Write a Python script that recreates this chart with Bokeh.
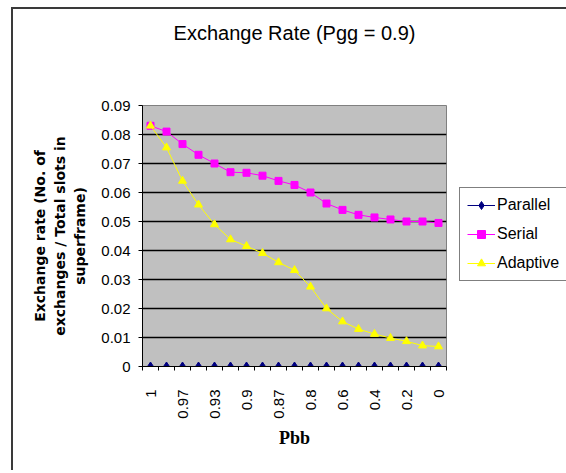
from bokeh.plotting import figure
from bokeh.models import Range1d, FixedTicker, Legend, LegendItem, Title
from bokeh.embed import file_html
from bokeh.resources import INLINE

pbb = ["1", "0.98", "0.97", "0.95", "0.93", "0.92", "0.9", "0.88", "0.87", "0.85",
       "0.8", "0.7", "0.6", "0.5", "0.4", "0.3", "0.2", "0.1", "0"]
parallel = [0.0] * 19
serial = [0.083, 0.081, 0.0767, 0.073, 0.070, 0.067, 0.0668, 0.0658, 0.064, 0.0626,
          0.060, 0.0562, 0.054, 0.0523, 0.0514, 0.0507, 0.050, 0.050, 0.0495]
adaptive = [0.083, 0.0755, 0.064, 0.0558, 0.049, 0.0438, 0.0415, 0.0391, 0.0359, 0.0332,
            0.0275, 0.020, 0.0155, 0.0129, 0.0112, 0.0098, 0.0087, 0.0072, 0.0069]
y_ticks = [0, 0.01, 0.02, 0.03, 0.04, 0.05, 0.06, 0.07, 0.08, 0.09]
y_labels = ["0", "0.01", "0.02", "0.03", "0.04", "0.05", "0.06", "0.07", "0.08", "0.09"]

xs = list(range(len(pbb)))

p = figure(output_backend="svg", toolbar_location=None,
           frame_width=304, frame_height=261,
           min_border_left=129, min_border_right=120, min_border_top=96, min_border_bottom=104,
           x_range=Range1d(-0.5, len(pbb) - 0.5), y_range=Range1d(0, 0.09),
           title="Exchange Rate (Pgg = 0.9)")
p.styles = {"margin-left": "11px", "margin-top": "7px",
            "border-left": "2px solid #3a3a3a", "border-top": "2px solid #3a3a3a"}

p.title.align = "center"
p.title.text_font = "Liberation Sans"
p.title.text_font_size = "20px"
p.title.text_font_style = "normal"
p.title.text_color = "black"
p.title.standoff = 10

spacer = Title(text=" ", text_font_size="1px", standoff=54)
p.above.insert(0, spacer)

p.background_fill_color = "#C0C0C0"
p.border_fill_color = "white"
p.outline_line_color = "#808080"
p.outline_line_width = 1

# x axis
p.xaxis.ticker = FixedTicker(ticks=xs[::2], minor_ticks=[i - 0.5 for i in range(len(pbb) + 1)])
p.xaxis.major_label_overrides = {i: pbb[i] for i in xs}
p.xaxis.major_label_orientation = 1.5708
p.xaxis.major_tick_out = 0
p.xaxis.major_tick_in = 0
p.xaxis.minor_tick_out = 4
p.xaxis.minor_tick_in = 0
p.xaxis.minor_tick_line_color = "black"
p.xaxis.axis_line_color = "black"
p.xaxis.major_label_standoff = 19
p.xaxis.major_label_text_font = "Liberation Sans"
p.xaxis.major_label_text_font_size = "15px"
p.xaxis.major_label_text_color = "black"
p.xaxis.axis_label = "Pbb"
p.xaxis.axis_label_text_font = "Liberation Serif"
p.xaxis.axis_label_text_font_style = "bold"
p.xaxis.axis_label_text_font_size = "18px"
p.xaxis.axis_label_text_color = "black"
p.xaxis.axis_label_standoff = 6

# y axis
p.yaxis.ticker = FixedTicker(ticks=y_ticks, minor_ticks=[])
p.yaxis.major_label_overrides = {t: l for t, l in zip(y_ticks, y_labels)}
p.yaxis.major_tick_out = 4
p.yaxis.major_tick_in = 0
p.yaxis.major_tick_line_color = "black"
p.yaxis.axis_line_color = "black"
p.yaxis.major_label_standoff = 8
p.yaxis.major_label_text_font = "Liberation Sans"
p.yaxis.major_label_text_font_size = "15px"
p.yaxis.major_label_text_color = "black"
p.yaxis.axis_label = "Exchange rate (No. of\nexchanges / Total slots in\nsuperframe)"
p.yaxis.axis_label_text_font = "DejaVu Sans"
p.yaxis.axis_label_text_font_style = "bold"
p.yaxis.axis_label_text_font_size = "14px"
p.yaxis.axis_label_text_line_height = 1.25
p.yaxis.axis_label_text_color = "black"
p.yaxis.axis_label_standoff = 10

p.xgrid.grid_line_color = None
p.ygrid.ticker = FixedTicker(ticks=y_ticks[1:-1])
p.ygrid.grid_line_color = "black"
p.ygrid.grid_line_width = 1.5

# series
l1 = p.line(xs, parallel, line_color="#000080", line_width=1)
m1 = p.scatter(xs, parallel, marker="diamond", size=9, fill_color="#000080", line_color="#000080")
l2 = p.line(xs, serial, line_color="#FF00FF", line_width=1)
m2 = p.scatter(xs, serial, marker="square", size=7, fill_color="#FF00FF", line_color="#FF00FF")
l3 = p.line(xs, adaptive, line_color="#FFFF00", line_width=1)
m3 = p.scatter(xs, adaptive, marker="triangle", size=8, fill_color="#FFFF00", line_color="#FFFF00")

legend = Legend(items=[LegendItem(label="Parallel", renderers=[l1, m1]),
                       LegendItem(label="Serial", renderers=[l2, m2]),
                       LegendItem(label="Adaptive", renderers=[l3, m3])],
                location=(13, 85))
legend.margin = 0
legend.padding = 7
legend.spacing = 9
legend.glyph_width = 28
legend.glyph_height = 20
legend.label_height = 20
legend.label_standoff = 2
legend.label_text_font = "Liberation Sans"
legend.label_text_font_size = "16px"
legend.label_text_color = "black"
legend.border_line_color = "black"
legend.border_line_width = 1
legend.background_fill_color = "white"
legend.background_fill_alpha = 1
p.add_layout(legend, "right")

open("out.html", "w").write(file_html(p, INLINE))
